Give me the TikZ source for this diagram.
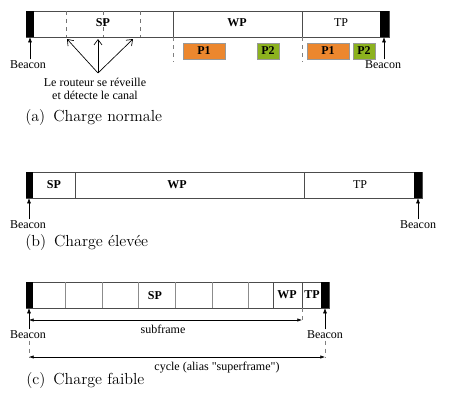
\documentclass[tikz,border=0pt]{standalone}
\usepackage{fontspec}
\newfontfamily\timesfont{Liberation Serif}
\usetikzlibrary{arrows.meta}
\definecolor{pktorange}{RGB}{236,135,46}
\definecolor{pktgreen}{RGB}{140,178,30}

\begin{document}
\begin{tikzpicture}[x=0.75pt,y=-0.75pt,
  frame/.style={draw=black!70, line width=0.7pt},
  slot/.style={draw=black!55, dashed, line width=0.5pt},
  cell/.style={draw=black!45, line width=0.5pt},
  guide/.style={draw=black!50, dashed, line width=0.5pt},
  txt/.style={font=\timesfont\fontsize{9}{10}\selectfont, inner sep=1pt},
  seg/.style={font=\timesfont\bfseries\fontsize{9}{10}\selectfont, inner sep=1pt},
  pkt/.style={draw=black!40, line width=0.6pt, minimum width=#1*0.75pt,
    minimum height=12pt, inner sep=0pt, font=\timesfont\bfseries\fontsize{9}{10}\selectfont},
  subcap/.style={font=\large, anchor=west, inner sep=0pt},
  beaconarrow/.style={-{Latex[length=4pt,width=3pt]}, line width=0.5pt},
  spanarrow/.style={{Latex[length=3.5pt,width=2.5pt]}-{Latex[length=3.5pt,width=2.5pt]}, line width=0.4pt},
  wake/.style={-{Straight Barb[length=4pt,width=6pt]}, line width=0.5pt}
]
\useasboundingbox (0,0) rectangle (450,400);

% (a) charge normale
\draw[frame] (26,11) rectangle (389,37);
\fill (26,11) rectangle (34,37);
\fill (380,11) rectangle (389,37);
\foreach \x in {66,103,140} \draw[slot] (\x,11) -- (\x,37);
\draw[frame] (173,11) -- (173,37) (302,11) -- (302,37);
\draw[guide] (173,37) -- (173,62) (302,37) -- (302,62);
\node[seg] (spA) at (103,23) {SP};
\node[seg] (wpA) at (237,23) {WP};
\node[seg, font=\timesfont\fontsize{9}{10}\selectfont] (tpA) at (341,23) {TP};
\node[pkt=42, fill=pktorange] (p1A) at (204,51) {P1};
\node[pkt=22, fill=pktgreen] (p2A) at (268,51) {P2};
\node[pkt=42, fill=pktorange] (p1B) at (328,51) {P1};
\node[pkt=22, fill=pktgreen] (p2B) at (364,51) {P2};
\coordinate (bA1) at (30,37);
\coordinate (bA2) at (384,37);
\node[txt] (beaA1) at (28,65) {Beacon};
\node[txt] (beaA2) at (383,65) {Beacon};
\draw[beaconarrow] (beaA1.north -| bA1) -- (bA1);
\draw[beaconarrow] (beaA2.north -| bA2) -- (bA2);
\node[txt, align=center] (wakeA) at (95,89) {Le routeur se réveille\\et détecte le canal};
\coordinate (hubA) at (98,73);
\foreach \x [count=\i] in {67,98,133} {
  \coordinate (sl\i) at (\x,39);
  \draw[wake] (hubA) -- (sl\i);
}
\node[subcap] (capA) at (25,118) {(a)\enspace Charge normale};

% (b) charge elevee
\draw[frame] (26,172) rectangle (422,198);
\fill (26,172) rectangle (33,198);
\fill (414,172) rectangle (422,198);
\draw[frame] (75,172) -- (75,198) (304,172) -- (304,198);
\node[seg] (spB) at (54,185) {SP};
\node[seg] (wpB) at (177,185) {WP};
\node[seg, font=\timesfont\fontsize{9}{10}\selectfont] (tpB) at (360,185) {TP};
\coordinate (bB1) at (29,198);
\coordinate (bB2) at (418,198);
\node[txt] (beaB1) at (28,225) {Beacon};
\node[txt] (beaB2) at (418,225) {Beacon};
\draw[beaconarrow] (beaB1.north -| bB1) -- (bB1);
\draw[beaconarrow] (beaB2.north -| bB2) -- (bB2);
\node[subcap] (capB) at (25,243) {(b)\enspace Charge élevée};

% (c) charge faible
\draw[frame] (26,282) rectangle (329,308);
\fill (26,282) rectangle (33,308);
\fill (321,282) rectangle (329,308);
\foreach \x in {65,102,138,175,212,248} \draw[cell] (\x,282) -- (\x,308);
\draw[frame] (273,282) -- (273,308) (302,282) -- (302,308);
\node[seg] (spC) at (155,296) {SP};
\node[seg] (wpC) at (287,295) {WP};
\node[seg] (tpC) at (312,295) {TP};
\coordinate (bC1) at (29,308);
\coordinate (bC2) at (325,308);
\node[txt] (beaC1) at (28,335) {Beacon};
\node[txt] (beaC2) at (325,335) {Beacon};
\draw[beaconarrow] (beaC1.north -| bC1) -- (bC1);
\draw[beaconarrow] (beaC2.north -| bC2) -- (bC2);
\coordinate (sfL) at (29,320);
\coordinate (sfR) at (302,320);
\coordinate (cyL) at (29,357);
\coordinate (cyR) at (325,357);
\draw[guide] (302,308) -- (302,323);
\draw[guide] (beaC1.south -| cyL) -- (cyL);
\draw[guide] (beaC2.south -| cyR) -- (cyR);
\draw[spanarrow] (sfL) -- (sfR);
\draw[spanarrow] (cyL) -- (cyR);
\node[txt] (sfC) at (163,329) {subframe};
\node[txt] (cyC) at (217,368) {cycle (alias "superframe")};
\node[subcap] (capC) at (26,381) {(c)\enspace Charge faible};
\end{tikzpicture}
\end{document}
